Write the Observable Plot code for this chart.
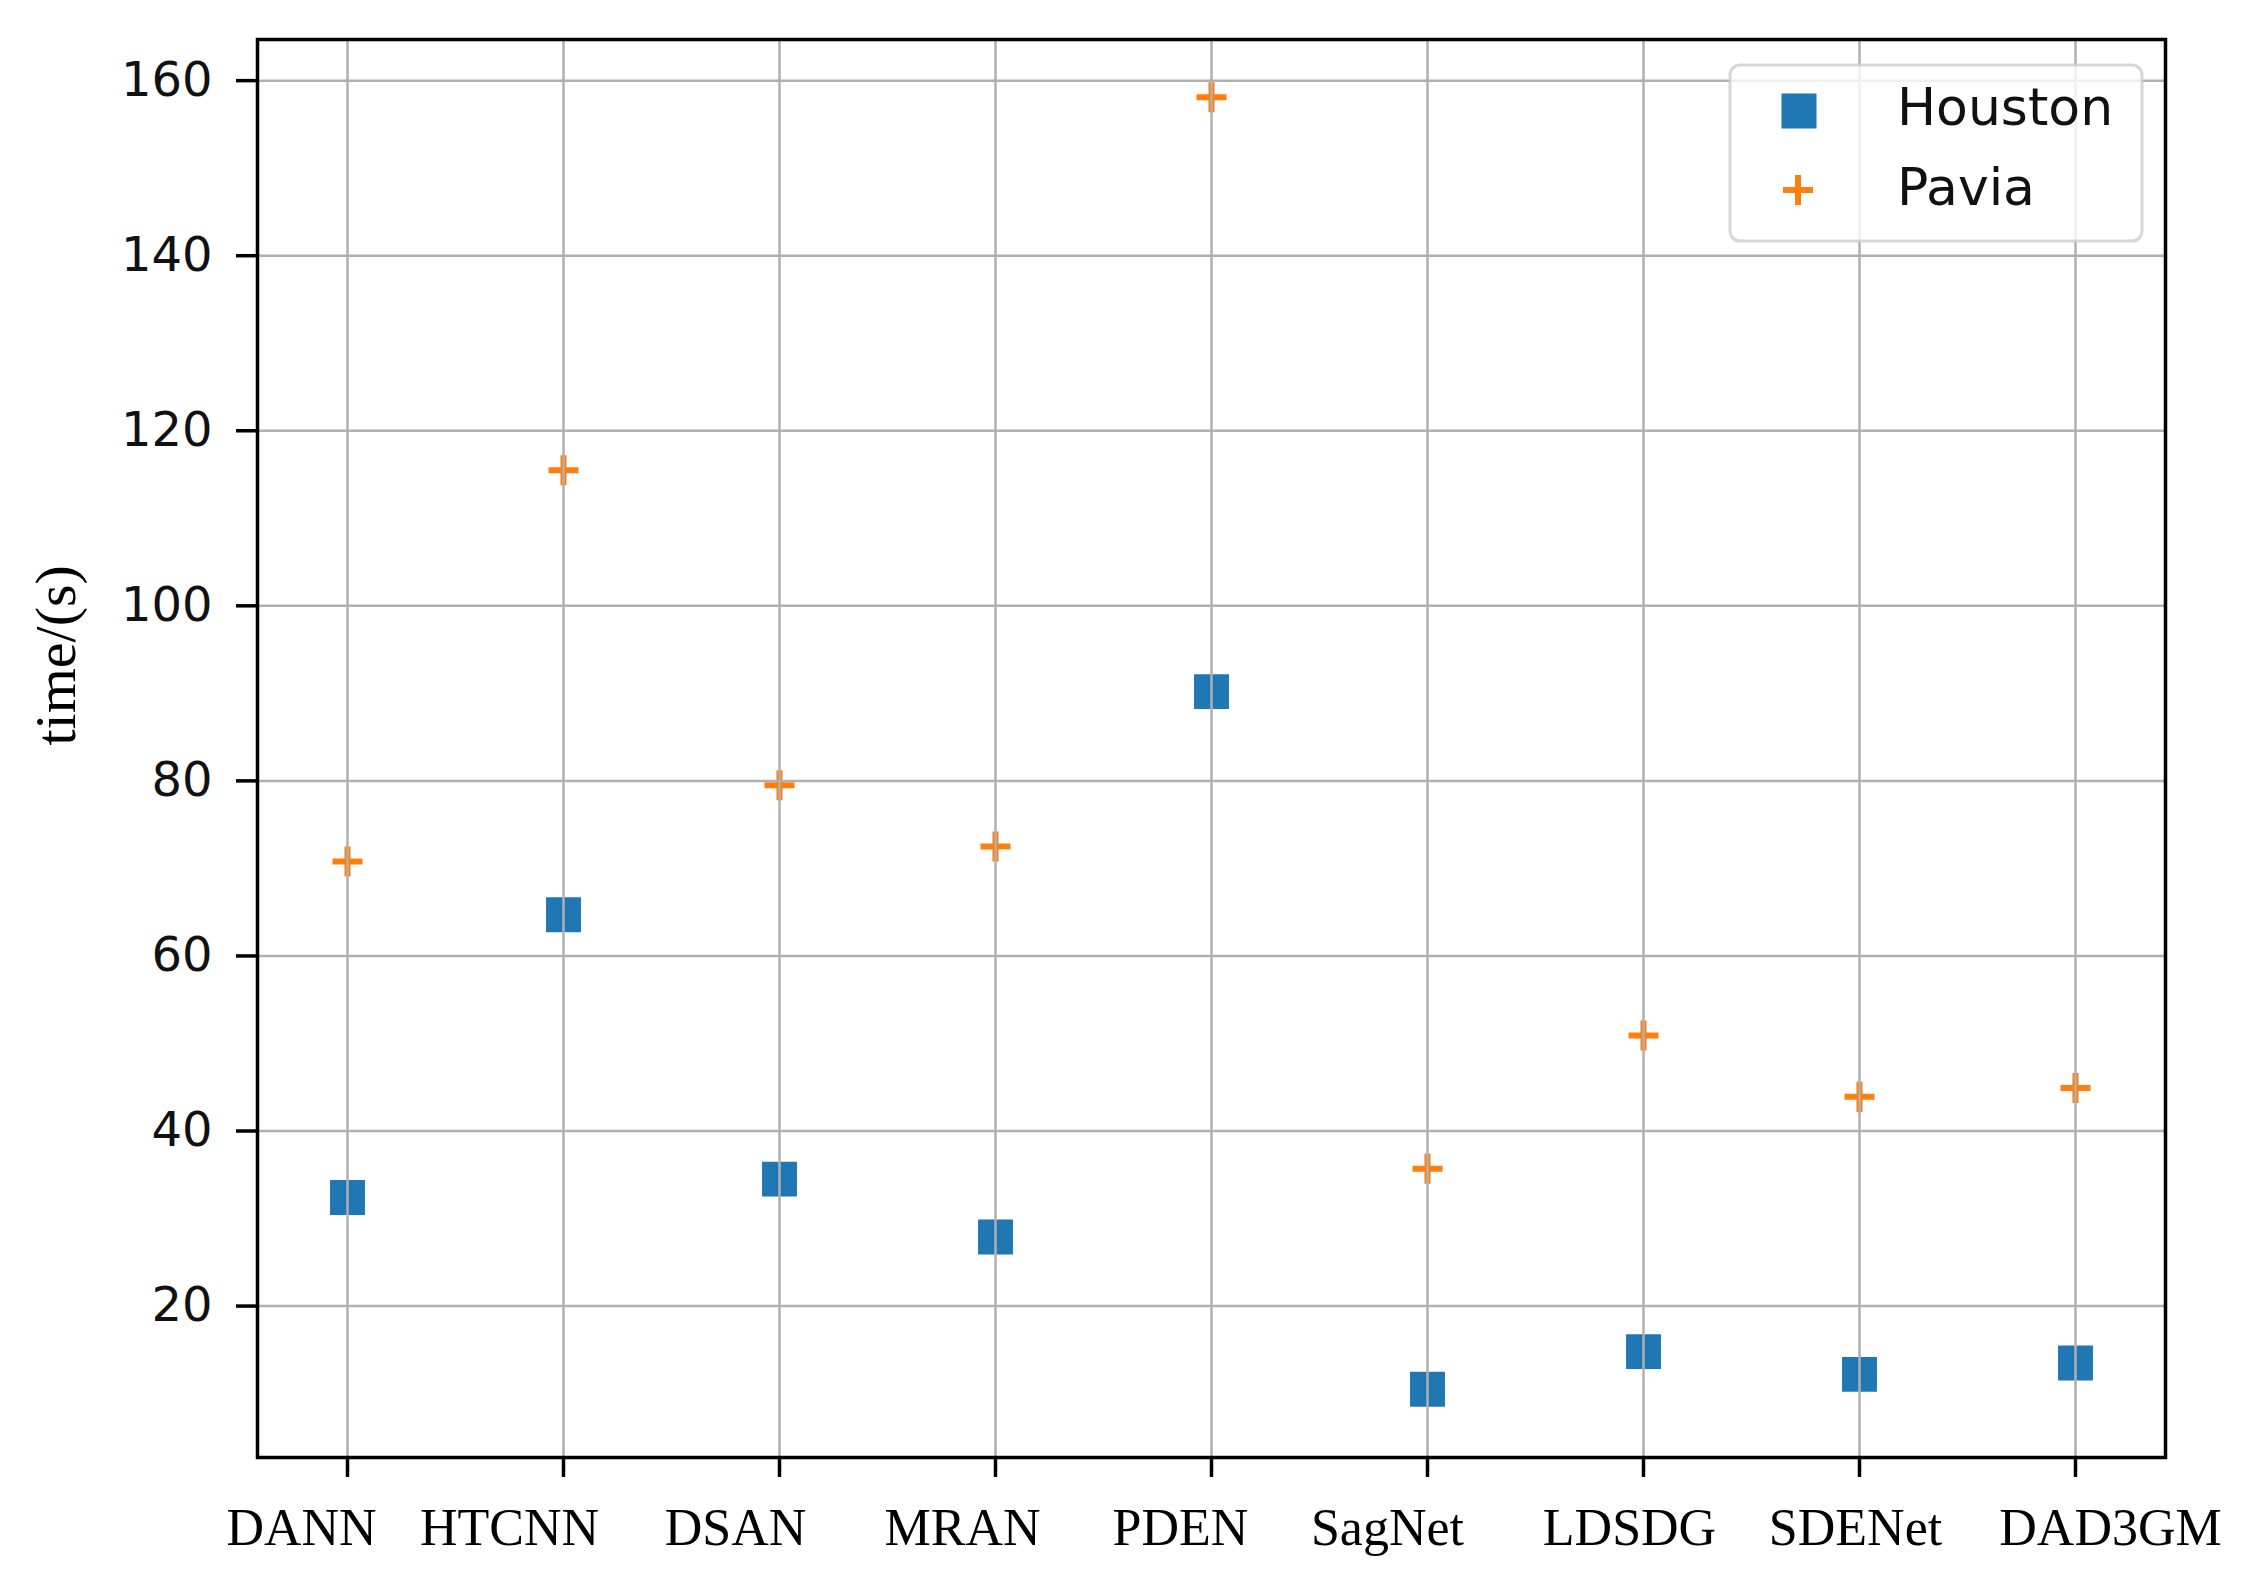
<!DOCTYPE html>
<html>
<head>
<meta charset="utf-8">
<script src="https://cdn.jsdelivr.net/npm/d3@7"></script>
<script src="https://cdn.jsdelivr.net/npm/@observablehq/plot@0.6"></script>
<style>
  html, body { margin: 0; padding: 0; background: #ffffff; }
  #chart svg { display: block; }
</style>
</head>
<body>
<div id="chart"></div>
<script>
// ---- data ----
const categories = ["DANN", "HTCNN", "DSAN", "MRAN", "PDEN", "SagNet", "LDSDG", "SDENet", "DAD3GM"];
const houston = [32.4, 64.7, 34.5, 27.9, 90.2, 10.5, 14.8, 12.2, 13.5];
const pavia = [70.8, 115.5, 79.5, 72.5, 158.1, 35.7, 50.9, 43.9, 44.9];
const seriesNames = ["Houston", "Pavia"];
const yTicks = [20, 40, 60, 80, 100, 120, 140, 160];
const yLabel = "time/(s)";

// ---- layout constants (label nudges as in the original figure) ----
const labelNudge = {DANN: -46, HTCNN: -54, DSAN: -44, MRAN: -33, PDEN: -31, SagNet: -40, LDSDG: -14, SDENet: -4, DAD3GM: 35};

const houstonRows = categories.map((c, i) => ({method: c, time: houston[i]}));
const paviaRows = categories.map((c, i) => ({method: c, time: pavia[i]}));

const blue = "#1f77b4";
const orange = "#ff7f0e";
const gridColor = "#b0b0b0";

function legendMark() {
  const g = d3.create("svg:g");
  g.append("rect")
    .attr("x", 1730).attr("y", 65).attr("width", 412).attr("height", 176)
    .attr("rx", 10).attr("ry", 10)
    .attr("fill", "white").attr("fill-opacity", 0.8)
    .attr("stroke", "#cccccc").attr("stroke-opacity", 0.8).attr("stroke-width", 3);
  // Houston entry
  g.append("path")
    .attr("transform", "translate(1799,111)")
    .attr("d", d3.symbol(d3.symbolSquare, 35 * 35)())
    .attr("fill", blue);
  g.append("text")
    .attr("x", 1897).attr("y", 125)
    .attr("text-anchor", "start")
    .attr("font-family", "DejaVu Sans").attr("font-size", 52).attr("fill", "#111")
    .text(seriesNames[0]);
  // Pavia entry
  g.append("path")
    .attr("transform", "translate(1798,190)")
    .attr("d", "M-15,0H15M0,-15V15")
    .attr("fill", "none").attr("stroke", orange).attr("stroke-width", 6);
  g.append("text")
    .attr("x", 1897).attr("y", 205)
    .attr("text-anchor", "start")
    .attr("font-family", "DejaVu Sans").attr("font-size", 52).attr("fill", "#111")
    .text(seriesNames[1]);
  return g.node();
}

const xLabelMarks = categories.map(c =>
  Plot.text([c], {
    x: d => d,
    frameAnchor: "bottom",
    dy: 71,
    dx: labelNudge[c],
    lineAnchor: "middle",
    fontFamily: "Liberation Serif",
    fontSize: 52,
    fill: "#000"
  })
);

const chart = Plot.plot({
  width: 2256,
  height: 1592,
  marginLeft: 257,
  marginRight: 91,
  marginTop: 39,
  marginBottom: 135,
  style: {background: "white", fontFamily: "DejaVu Sans", color: "#111"},
  x: {type: "point", domain: categories, padding: 0.406},
  y: {domain: [2.7, 164.7]},
  marks: [
    Plot.dot(houstonRows, {x: "method", y: "time", symbol: "square", r: 19.7, fill: blue, stroke: "none"}),
    Plot.dot(paviaRows, {x: "method", y: "time", symbol: "plus", r: 9.7, stroke: orange, strokeWidth: 6}),
    Plot.gridX({stroke: gridColor, strokeOpacity: 1, strokeWidth: 2.5}),
    Plot.gridY({ticks: yTicks, stroke: gridColor, strokeOpacity: 1, strokeWidth: 2.5}),
    Plot.frame({stroke: "#000", strokeWidth: 3.5}),
    Plot.axisY({ticks: yTicks, tickSize: 21, tickPadding: 24, fontSize: 48, fontFamily: "DejaVu Sans", label: null, strokeWidth: 3.5, stroke: "#000", fill: "#111"}),
    Plot.axisX({tickSize: 20, tickFormat: () => "", label: null, strokeWidth: 3.5, stroke: "#000"}),
    ...xLabelMarks,
    Plot.text([yLabel], {
      frameAnchor: "left",
      rotate: -90,
      dx: -201,
      dy: -3,
      fontFamily: "Liberation Serif",
      fontSize: 58,
      fill: "#000"
    }),
    legendMark
  ]
});

document.getElementById("chart").appendChild(chart);
</script>
</body>
</html>
